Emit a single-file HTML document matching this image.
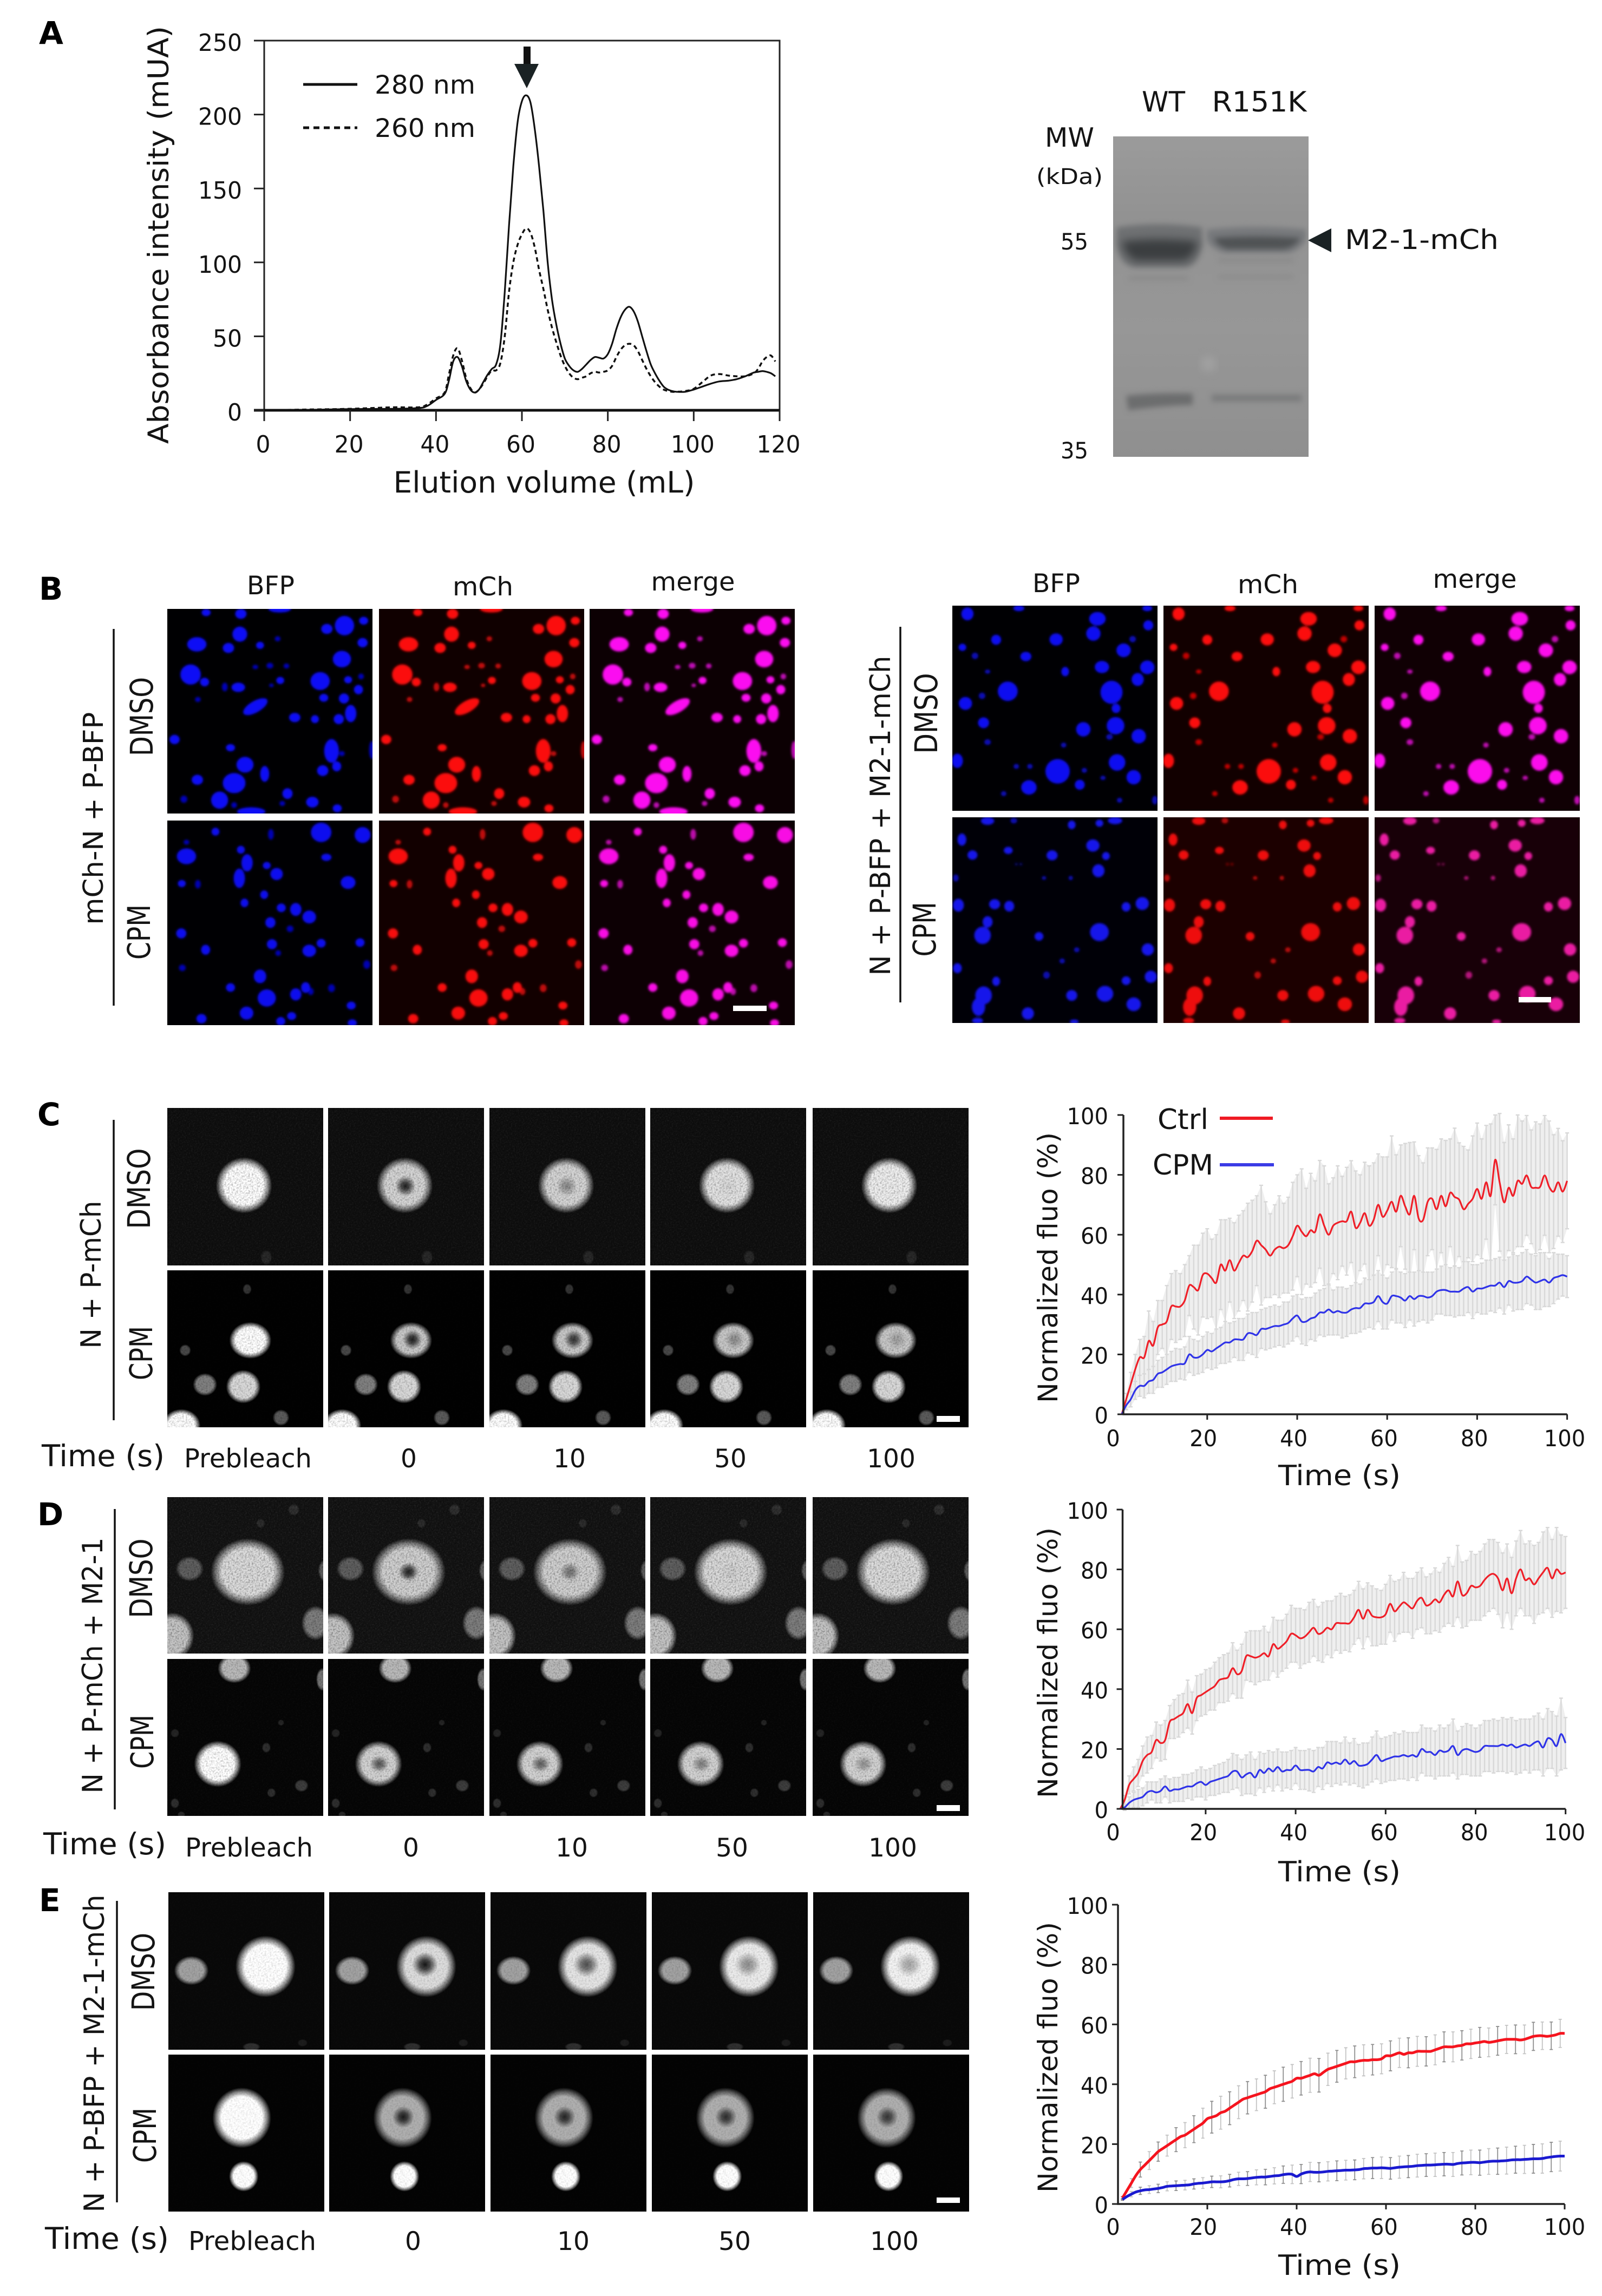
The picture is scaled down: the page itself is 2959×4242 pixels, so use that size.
<!DOCTYPE html>
<html lang="en">
<head>
<meta charset="utf-8">
<title>Phase separation and FRAP figure</title>
<style>
html,body{margin:0;padding:0;background:#fff;}
svg{display:block;}
text{font-family:"DejaVu Sans","Liberation Sans",sans-serif;fill:#141414;}
.pl{font-weight:700;font-size:58px;fill:#000;}
</style>
</head>
<body>
<svg id="fig" xmlns="http://www.w3.org/2000/svg" width="2959" height="4242" viewBox="0 0 2959 4242">
<defs>
<filter id="blurB" x="-5%" y="-5%" width="110%" height="110%"><feGaussianBlur stdDeviation="2.2"/></filter>
<filter id="blurGel" x="-20%" y="-60%" width="140%" height="220%" color-interpolation-filters="sRGB"><feGaussianBlur stdDeviation="8"/></filter>
<filter id="blurGel2" x="-20%" y="-200%" width="140%" height="500%" color-interpolation-filters="sRGB"><feGaussianBlur stdDeviation="5"/></filter>
<filter id="grain" x="0" y="0" width="100%" height="100%" color-interpolation-filters="sRGB"><feTurbulence type="fractalNoise" baseFrequency="0.32" numOctaves="2" seed="4"/><feColorMatrix type="matrix" values="0 0 0 0 0  0 0 0 0 0  0 0 0 0 0  1.8 0 0 0 -0.72"/></filter>
<filter id="speck" x="0" y="0" width="100%" height="100%" color-interpolation-filters="sRGB"><feTurbulence type="fractalNoise" baseFrequency="0.4" numOctaves="2" seed="9"/><feColorMatrix type="matrix" values="0 0 0 0 1  0 0 0 0 1  0 0 0 0 1  1.3 0 0 0 -0.62"/></filter>
<radialGradient id="soft"><stop offset="0" stop-color="#fff"/><stop offset="0.7" stop-color="#fff"/><stop offset="0.85" stop-color="#fff" stop-opacity="0.55"/><stop offset="1" stop-color="#fff" stop-opacity="0"/></radialGradient>
<radialGradient id="hole"><stop offset="0" stop-color="#000" stop-opacity="1"/><stop offset="0.4" stop-color="#000" stop-opacity="0.75"/><stop offset="1" stop-color="#000" stop-opacity="0"/></radialGradient>
<linearGradient id="gelBg" x1="0" y1="0" x2="0" y2="1"><stop offset="0" stop-color="#9b9b9b"/><stop offset="0.25" stop-color="#929292"/><stop offset="0.6" stop-color="#979797"/><stop offset="1" stop-color="#8f8f8f"/></linearGradient>
<clipPath id="gelClip"><rect x="2056" y="252" width="361" height="592"/></clipPath>
</defs>
<rect width="2959" height="4242" fill="#fff"/>

<!-- Panel A -->
<text class="pl" x="72" y="81">A</text>
<g id="chartA"></g>
<text transform="translate(311,434) rotate(-90)" text-anchor="middle" font-size="53" textLength="772" lengthAdjust="spacingAndGlyphs">Absorbance intensity (mUA)</text>
<text x="1005" y="910" text-anchor="middle" font-size="54" textLength="557" lengthAdjust="spacingAndGlyphs">Elution volume (mL)</text>
<line x1="560" y1="156" x2="660" y2="156" stroke="#111" stroke-width="5"/>
<text x="692" y="173" font-size="47" textLength="186" lengthAdjust="spacingAndGlyphs">280 nm</text>
<line x1="560" y1="236" x2="660" y2="236" stroke="#111" stroke-width="5" stroke-dasharray="11 8"/>
<text x="692" y="253" font-size="47" textLength="186" lengthAdjust="spacingAndGlyphs">260 nm</text>
<g><rect x="967" y="86" width="13" height="40" fill="#111"/><path d="M950 118 L995 118 L973 163 Z" fill="#1a2224"/></g>

<!-- Gel -->
<g clip-path="url(#gelClip)">
<rect x="2056" y="252" width="361" height="592" fill="url(#gelBg)"/>
<path d="M2062 420 Q2140 408 2220 420 L2221 452 Q2214 490 2190 494 L2094 494 Q2068 488 2062 452 Z" fill="#6f7173" filter="url(#blurGel2)"/>
<path d="M2072 446 Q2140 438 2212 446 Q2207 476 2186 482 L2098 482 Q2078 474 2072 446 Z" fill="#3b3e40" filter="url(#blurGel)"/>
<path d="M2229 424 Q2320 414 2412 424 L2412 444 Q2398 464 2380 467 L2262 467 Q2240 462 2229 444 Z" fill="#77797c" filter="url(#blurGel2)"/>
<path d="M2242 440 Q2320 434 2402 440 Q2390 458 2370 460 L2268 460 Q2250 456 2242 440 Z" fill="#505355" filter="url(#blurGel2)"/>
<rect x="2250" y="478" width="140" height="6" fill="#888" filter="url(#blurGel2)"/>
<rect x="2085" y="510" width="110" height="8" fill="#8a8a8a" filter="url(#blurGel2)"/>
<rect x="2250" y="508" width="140" height="7" fill="#8c8c8c" filter="url(#blurGel2)"/>
<path d="M2080 731 Q2140 725 2203 727 L2203 748 Q2140 750 2084 758 Z" fill="#6c6d6e" filter="url(#blurGel2)"/>
<rect x="2238" y="729" width="166" height="13" fill="#7a7b7c" filter="url(#blurGel2)"/>
<circle cx="2232" cy="672" r="14" fill="#a2a2a2" filter="url(#blurGel)"/>
</g>
<text x="2149" y="206" text-anchor="middle" font-size="52" textLength="80" lengthAdjust="spacingAndGlyphs">WT</text>
<text x="2326" y="206" text-anchor="middle" font-size="52" textLength="175" lengthAdjust="spacingAndGlyphs">R151K</text>
<text x="1930" y="271" font-size="49" textLength="91" lengthAdjust="spacingAndGlyphs">MW</text>
<text x="1914" y="340" font-size="40" textLength="123" lengthAdjust="spacingAndGlyphs">(kDa)</text>
<text x="1959" y="461" font-size="42" textLength="51" lengthAdjust="spacingAndGlyphs">55</text>
<text x="1959" y="847" font-size="42" textLength="51" lengthAdjust="spacingAndGlyphs">35</text>
<path d="M2416 444 L2459 422 L2459 466 Z" fill="#1a2224"/>
<text x="2484" y="460" font-size="50" textLength="284" lengthAdjust="spacingAndGlyphs">M2-1-mCh</text>

<!-- Panel B text -->
<text class="pl" x="72" y="1108">B</text>
<text x="500" y="1098" text-anchor="middle" font-size="47" textLength="88" lengthAdjust="spacingAndGlyphs">BFP</text>
<text x="892" y="1100" text-anchor="middle" font-size="47" textLength="112" lengthAdjust="spacingAndGlyphs">mCh</text>
<text x="1280" y="1091" text-anchor="middle" font-size="47" textLength="155" lengthAdjust="spacingAndGlyphs">merge</text>
<line x1="210" y1="1162" x2="210" y2="1858" stroke="#111" stroke-width="3.5"/>
<text transform="translate(190,1512) rotate(-90)" text-anchor="middle" font-size="51" textLength="393" lengthAdjust="spacingAndGlyphs">mCh-N + P-BFP</text>
<text transform="translate(282,1324) rotate(-90)" text-anchor="middle" font-size="58" textLength="146" lengthAdjust="spacingAndGlyphs">DMSO</text>
<text transform="translate(277,1722) rotate(-90)" text-anchor="middle" font-size="58" textLength="102" lengthAdjust="spacingAndGlyphs">CPM</text>

<text x="1951" y="1094" text-anchor="middle" font-size="47" textLength="88" lengthAdjust="spacingAndGlyphs">BFP</text>
<text x="2342" y="1096" text-anchor="middle" font-size="47" textLength="112" lengthAdjust="spacingAndGlyphs">mCh</text>
<text x="2724" y="1086" text-anchor="middle" font-size="47" textLength="155" lengthAdjust="spacingAndGlyphs">merge</text>
<line x1="1663" y1="1158" x2="1663" y2="1852" stroke="#111" stroke-width="3.5"/>
<text transform="translate(1644,1507) rotate(-90)" text-anchor="middle" font-size="52" textLength="591" lengthAdjust="spacingAndGlyphs">N + P-BFP + M2-1-mCh</text>
<text transform="translate(1731,1318) rotate(-90)" text-anchor="middle" font-size="58" textLength="149" lengthAdjust="spacingAndGlyphs">DMSO</text>
<text transform="translate(1728,1717) rotate(-90)" text-anchor="middle" font-size="58" textLength="101" lengthAdjust="spacingAndGlyphs">CPM</text>

<g id="micrographs"></g>

<rect x="1354" y="1858" width="62" height="10" fill="#fff"/>
<rect x="2805" y="1842" width="60" height="10" fill="#fff"/>

<!-- Panel C text -->
<text class="pl" x="69" y="2079">C</text>
<line x1="210" y1="2069" x2="210" y2="2624" stroke="#111" stroke-width="3.5"/>
<text transform="translate(186,2355) rotate(-90)" text-anchor="middle" font-size="52" textLength="273" lengthAdjust="spacingAndGlyphs">N + P-mCh</text>
<text transform="translate(277,2196) rotate(-90)" text-anchor="middle" font-size="58" textLength="149" lengthAdjust="spacingAndGlyphs">DMSO</text>
<text transform="translate(281,2500) rotate(-90)" text-anchor="middle" font-size="58" textLength="100" lengthAdjust="spacingAndGlyphs">CPM</text>
<text x="77" y="2709" font-size="55" textLength="227" lengthAdjust="spacingAndGlyphs">Time (s)</text>
<text x="340" y="2711" font-size="48" textLength="236" lengthAdjust="spacingAndGlyphs">Prebleach</text>
<text x="755" y="2711" text-anchor="middle" font-size="47">0</text>
<text x="1052" y="2711" text-anchor="middle" font-size="47">10</text>
<text x="1349" y="2711" text-anchor="middle" font-size="47">50</text>
<text x="1646" y="2711" text-anchor="middle" font-size="47">100</text>
<rect x="1730" y="2616" width="43" height="11" fill="#fff"/>

<!-- Panel D text -->
<text class="pl" x="69" y="2818">D</text>
<line x1="212" y1="2788" x2="212" y2="3343" stroke="#111" stroke-width="3.5"/>
<text transform="translate(189,3077) rotate(-90)" text-anchor="middle" font-size="52" textLength="473" lengthAdjust="spacingAndGlyphs">N + P-mCh + M2-1</text>
<text transform="translate(281,2916) rotate(-90)" text-anchor="middle" font-size="58" textLength="147" lengthAdjust="spacingAndGlyphs">DMSO</text>
<text transform="translate(283,3218) rotate(-90)" text-anchor="middle" font-size="58" textLength="100" lengthAdjust="spacingAndGlyphs">CPM</text>
<text x="80" y="3426" font-size="55" textLength="227" lengthAdjust="spacingAndGlyphs">Time (s)</text>
<text x="342" y="3430" font-size="48" textLength="236" lengthAdjust="spacingAndGlyphs">Prebleach</text>
<text x="759" y="3430" text-anchor="middle" font-size="47">0</text>
<text x="1056" y="3430" text-anchor="middle" font-size="47">10</text>
<text x="1352" y="3430" text-anchor="middle" font-size="47">50</text>
<text x="1649" y="3430" text-anchor="middle" font-size="47">100</text>
<rect x="1730" y="3335" width="43" height="11" fill="#fff"/>

<!-- Panel E text -->
<text class="pl" x="72" y="3531">E</text>
<line x1="216" y1="3512" x2="216" y2="4069" stroke="#111" stroke-width="3.5"/>
<text transform="translate(192,3794) rotate(-90)" text-anchor="middle" font-size="52" textLength="587" lengthAdjust="spacingAndGlyphs">N + P-BFP + M2-1-mCh</text>
<text transform="translate(285,3643) rotate(-90)" text-anchor="middle" font-size="58" textLength="144" lengthAdjust="spacingAndGlyphs">DMSO</text>
<text transform="translate(288,3945) rotate(-90)" text-anchor="middle" font-size="58" textLength="102" lengthAdjust="spacingAndGlyphs">CPM</text>
<text x="83" y="4155" font-size="55" textLength="229" lengthAdjust="spacingAndGlyphs">Time (s)</text>
<text x="348" y="4157" font-size="48" textLength="236" lengthAdjust="spacingAndGlyphs">Prebleach</text>
<text x="763" y="4157" text-anchor="middle" font-size="47">0</text>
<text x="1059" y="4157" text-anchor="middle" font-size="47">10</text>
<text x="1357" y="4157" text-anchor="middle" font-size="47">50</text>
<text x="1652" y="4157" text-anchor="middle" font-size="47">100</text>
<rect x="1730" y="4060" width="43" height="10" fill="#fff"/>

<g id="frapC"></g>
<g id="frapD"></g>
<g id="frapE"></g>

<!-- FRAP titles -->
<text transform="translate(1953,2342) rotate(-90)" text-anchor="middle" font-size="50" textLength="500" lengthAdjust="spacingAndGlyphs">Normalized fluo (%)</text>
<text x="2474" y="2744" text-anchor="middle" font-size="52" textLength="226" lengthAdjust="spacingAndGlyphs">Time (s)</text>
<text transform="translate(1953,3072) rotate(-90)" text-anchor="middle" font-size="50" textLength="500" lengthAdjust="spacingAndGlyphs">Normalized fluo (%)</text>
<text x="2474" y="3476" text-anchor="middle" font-size="52" textLength="226" lengthAdjust="spacingAndGlyphs">Time (s)</text>
<text transform="translate(1953,3801) rotate(-90)" text-anchor="middle" font-size="50" textLength="500" lengthAdjust="spacingAndGlyphs">Normalized fluo (%)</text>
<text x="2474" y="4203" text-anchor="middle" font-size="52" textLength="226" lengthAdjust="spacingAndGlyphs">Time (s)</text>

<!-- FRAP legend -->
<text x="2138" y="2086" font-size="52" textLength="94" lengthAdjust="spacingAndGlyphs">Ctrl</text>
<rect x="2253" y="2063" width="98" height="6" fill="#ef1b24"/>
<text x="2129" y="2170" font-size="52" textLength="112" lengthAdjust="spacingAndGlyphs">CPM</text>
<rect x="2253" y="2149" width="100" height="6" fill="#3b3ce6"/>
</svg>

<script>
/* ---------- Panel A data ---------- */
const volumes=[0,10,20,30,36,38,40,42,43,44,45,46,47,48,49,50,51,52,53,54,55,56,57,58,59,60,61,62,63,64,65,66,67,68,69,70,71,72,73,74,75,76,77,78,79,80,81,82,83,84,85,86,87,88,89,90,91,92,93,94,95,96,98,100,102,104,106,108,110,112,114,115,116,117,118,119];
const a280=[0,0.3,0.8,1,1.5,3,7,11,20,33,36,30,20,14,12,14,19,24,28,31,45,80,125,165,195,209,213,208,190,165,135,100,75,58,45,35,30,27,26,28,31,34,36,35.5,35,38,45,55,63,68,70,67,60,50,40,31,25,20,16,14,13,12.5,12.5,14,16,18,19.5,20,21,23,25.5,26,26.5,26,25,23];
const a260=[0,0.5,1,2,2,4,8,12,24,37,42,34,22,15,12,14,18,23,27,27,32,50,80,100,112,119,123,120,110,95,82,68,56,46,37,30,25,22,21,22,23,25,26,25.5,26,27,30,36,41,44,45,44,40,34,28,23,19,16,14,13,12.5,12.5,13,14.5,19,23.5,24.5,23.5,23,23,25,28,33,36,37,33];
const aXTicks=[0,20,40,60,80,100,120];
const aYTicks=[0,50,100,150,200,250];

/* ---------- FRAP data (time = index + 1 s) ---------- */
const frapXTicks=[0,20,40,60,80,100];
const frapYTicks=[0,20,40,60,80,100];
const cMeanCtrl=[0,5,10,15,19,19,24.5,23,29,30,31,36,36,36,38,43,42.5,41.5,46.5,47,45.5,44,50,48,51.5,48,50.5,53,52.5,54.5,58,56.5,55,53,55,56,55.5,56.5,59.5,63,61,59.5,61.5,61,66.8,63,60,63,64,64.5,64.5,67.7,62.3,64,67.2,63,65,70,66,68,71,67.7,73,69.5,66.8,73,65.4,65,71,72,68.5,73,69.5,74,72.6,71.7,68.5,70.3,72,75.3,72,77.5,73,85,77.5,70.8,75.7,73,78,77,79.8,76,75.7,76,79.8,76,74.4,77.5,74.4,78];
const cErrCtrl=[0,2,4,5,6,7,10,8,9,8,12,11,12,11,12,10,14,15,14,15,13,16,15,17,14,16,16,15,18,17,15,20,16,14,15,17,15,16,18,17,21,16,19,17,18,20,17,16,19,15,18,17,19,16,17,20,19,17,20,18,22,19,17,21,24,18,21,19,18,17,20,19,22,18,23,19,21,18,21,22,20,19,24,15,23,20,21,19,22,21,20,19,22,21,20,22,19,18,17,16];
const cMeanCpm=[0,3,5,8,9.5,9.5,11,11.5,13.5,14,15,16,16.5,16.8,17,20,19,19,20,21.5,21,22,23,24,24,25,25,25,27,27,26.5,28.5,28.5,29,29.5,29.5,30,30.5,32,33,31,31,32,32.5,34,34,35,34,34.5,34,34,35,35.5,35.5,37,37,37.5,39.5,37.5,37,39.5,39.5,39,38,39.5,38.5,39.5,39.5,39,39.5,41,41.5,41.5,41,41,41,42,42.5,41,42,42,42.5,43,43,44,42.5,44.5,44,44,44.5,46,45,44,44.5,45,44,45.5,46,46.5,46];
const cErrCpm=[0,1.5,2.5,3,3.5,4,4,4.5,4.5,5,5,5,5.5,5,5.5,6,6,5.5,6,6,6,6.5,6,7,6.5,6,7,7,6.5,7,7.5,6.5,7,7,7,6.5,7.5,7,7.5,7,7.5,8,7,8,7.5,8,8.5,7.5,8,8.5,8,8,8.5,8,8.5,8,9,8.5,9,8.5,8,9,8.5,9,8,9,8.5,8,8.5,8,7.5,8,8.5,8,8.5,8,9,8.5,9,8,8.5,9,8.5,9,8.5,9,8,9.5,9,9.5,9,8.5,9,9.5,9,8,8.5,7.5,7,7];
const dMeanCtrl=[0,3,8,10,12,16,18,19,23,22,23,29,30,31,32,35,32,37,38,39,40,41,43,43.5,44,47,45,46,51,51,50.5,51,52,51,55,53.5,54.5,56,58.5,58,57,57.5,59,60.5,58.5,59,60.5,60,62,62,62,62,64,66.5,63.5,66.5,64.5,64,64,65,68.5,66,67.5,69,68,67,69.5,70.5,68,68.5,70,69,71.5,73,71,76,71.5,72,74.5,74,74.5,76.5,78,78.5,77,73,77,72,77,80,76.5,77,75,77,79,80.5,77,80,78.5,79];
const dErrCtrl=[0,1.5,3,4,4.5,5,6,5.5,6,6,6.5,5.5,6.5,7,6.5,8,7,7.5,7,7.5,7,8,7.5,8,8,8.5,8,9,8,8.5,9,8.5,9,8,9,9.5,8.5,9,9.5,9,10,9,10,9.5,9,10,9,9.5,9,10,9,9.5,9,9.5,10,9,10,9.5,9,10,9.5,10,9,10,9,10,9.5,10,9.5,10,10.5,10,10.5,11,10,12,11,11,11.5,11,11.5,12,12,11.5,12,12.5,11.5,12,12.5,13,12,12.5,13,12,13.5,13.5,13,14,13,12];
const dMeanCpm=[0,0.5,2,3,3.5,4,5.5,6,5.5,6,7.5,6,6.5,6.5,7,7.5,7.5,8.5,9,8,9,9.5,10,10.5,11,12.5,12.5,10.5,11.5,12,10.5,13,12,13.5,12.5,14,12.5,13,13,14.5,13,13,13,12.5,14,13.5,15.5,15,15.5,15,16.5,15,16,14.5,14.5,15,16.5,18,16,16.5,17,17.5,17.5,18,17.5,18,17.5,20,19,19,18,19.5,19,19.5,21,18,19.5,20,19.5,19,19.5,21,21,21,21,21.5,21,21.5,20.5,21,21.5,21,22,22.5,20.5,23.5,23,21,25,22];
const dErrCpm=[0,1,2,2.5,3,3,3.5,3,3.5,4,3.5,4,4,4,4.5,4,4.5,4.5,5,5,4.5,5,5,5,5.5,6,5.5,6,6.5,7,6,6,6.5,6,6.5,6,6.5,6,6.5,6,6.5,6.5,7,7,6.5,7,7,7.5,7,7,7.5,7,7.5,7,7.5,7,7.5,8,7.5,7.5,7.5,8,7.5,8,8,7.5,8,8,8,8,8,8.5,8,8.5,9,8,8,8.5,8.5,8,8.5,8.5,8.5,9,8.5,9,9,9,9,9,8.5,9,9,9.5,9.5,10,9.5,10,12,8.5];
const eMeanCtrl=[2,4.5,7,9.5,11.5,13,14.5,16,17.5,18.5,19.5,20.5,21.5,22.5,23,24,25,26,27,28.5,29,29.5,30.5,31,32,33,34,35,35.5,36,36.5,37,37.5,38.5,39,39.5,40,40.5,41,42,42,42.5,43,43.5,43,44,45,45.5,46,46.5,47,47.5,47.5,47.8,48,48,48.2,48.2,48.5,49.5,49.5,50,50.5,50,50.5,50.5,51,51,51,51,51.5,52,52.5,52.5,52.5,52.8,53,53.5,53.5,53.8,54,54.3,54,54.2,54.5,54.8,55,55,55,54.8,55,55.5,56,56.2,56.2,56,56.2,56.5,57,57];
const eErrCtrl=[0.5,1,1.5,2,2.5,2.8,3,3,3.2,3.3,3.5,3.7,4,4,4.2,4.3,4.5,4.7,5,5.2,5.3,5.4,5.5,5.5,5.5,5.5,5.5,5.5,5.4,5.3,5.3,5.4,5.5,5.5,5.5,5.6,5.7,5.7,5.6,5.5,5.6,5.6,5.7,5.8,5.6,5.5,5.4,5.3,5.3,5.2,5.2,5.2,5.3,5.3,5.2,5.2,5.1,5,5,5,5,5,4.9,4.9,5,5,5,4.9,4.9,4.9,5,5,5,5,5,4.9,4.9,4.9,4.9,5,5,4.9,4.8,4.8,4.8,4.8,4.7,4.8,4.8,4.8,4.8,4.8,4.7,4.7,4.6,4.6,4.6,4.7,4.7,4.7];
const eMeanCpm=[1.5,2.5,3.3,4,4.4,4.7,4.8,5,5.2,5.5,5.9,6,6.1,6.2,6.3,6.4,6.7,6.9,7,7.2,7.4,7.4,7.4,7.5,7.8,8.2,8.4,8.4,8.5,8.7,8.9,9,9,9.2,9.4,9.5,9.8,10,9.9,9.2,10,10.5,10.7,10.6,10.6,10.7,10.9,11,11.1,11.2,11.3,11.3,11.4,11.5,11.8,11.9,12,12,12.1,12,11.9,12.1,12.3,12.4,12.5,12.6,12.8,12.9,13,13,13.1,13.2,13.3,13.3,13.2,13.5,13.7,13.8,13.9,13.9,13.8,14,14.2,14.3,14.3,14.4,14.5,14.7,14.8,14.8,14.9,15,15.1,15.1,15.2,15.5,15.7,15.9,16,16];
const eErrCpm=[0.3,0.6,0.9,1.1,1.2,1.3,1.3,1.4,1.4,1.5,1.5,1.5,1.6,1.6,1.6,1.7,1.7,1.8,1.8,1.9,1.9,1.9,2,2,2.1,2.2,2.2,2.3,2.3,2.4,2.5,2.5,2.6,2.6,2.7,2.8,2.9,3,3.1,3.8,3.2,3.2,3.2,3.2,3.2,3.2,3.2,3.3,3.3,3.3,3.3,3.3,3.3,3.4,3.4,3.5,3.5,3.6,3.6,3.6,3.6,3.7,3.7,3.7,3.7,3.8,3.8,3.8,3.8,3.9,3.9,3.9,3.9,4,4,4,4,4.1,4.1,4.2,4.2,4.3,4.3,4.3,4.4,4.4,4.5,4.5,4.5,4.6,4.7,4.8,4.8,4.8,4.9,4.9,4.9,5,5,5];

/* ---------- Droplets for panel B: [x, y, rx, ry, rotation] in source-crop units ---------- */
const bLeftDmso=[[398,218,8,10],[465,222,10,14],[540,207,20,10],[665,258,17,27],[702,243,8,11],[631,268,10,14],[463,284,13,21],[380,315,17,20],[441,326,10,14],[502,318,7,10],[700,310,9,13],[660,360,16,23],[536,298,5,7],[368,407,18,28],[395,430,8,12],[618,427,17,25],[521,380,6,8],[493,384,5,6],[553,381,5,7],[541,425,7,10],[460,446,12,13],[434,445,5,12],[524,440,4,5],[692,453,8,13],[672,423,7,10],[697,413,5,8],[625,478,8,11],[664,480,9,14],[382,483,5,7],[493,505,24,16,-30],[677,526,10,24],[569,538,10,13],[608,543,7,11],[654,543,9,14],[337,605,9,13],[445,630,8,10],[640,640,13,33],[718,637,5,25],[660,648,5,7],[473,682,15,22],[650,687,8,14],[623,700,10,15],[511,710,8,22],[381,728,10,14],[452,738,20,28],[555,770,9,15],[424,790,15,24],[603,796,11,15],[355,787,6,10],[485,825,25,12],[651,815,8,11],[545,800,5,7],[452,805,5,8]];
const bLeftCpm=[[416,885,7,11],[523,893,5,15],[620,887,18,27],[700,895,14,22],[360,960,17,22],[360,917,5,7],[465,940,7,11],[477,980,10,24],[515,988,7,10],[462,1027,10,27],[534,1014,11,17],[630,963,9,10],[672,1040,13,18],[351,1043,7,10],[382,1045,5,12],[510,1077,7,12],[472,1102,7,12],[543,1117,8,12],[571,1122,10,18],[597,1145,12,18],[522,1162,9,15],[560,1181,6,9],[350,1195,9,14],[525,1228,9,14],[620,1225,8,12],[695,1223,8,12],[397,1245,8,14],[597,1248,12,17],[537,1255,5,8],[708,1290,6,12],[352,1300,6,9],[502,1326,11,19],[445,1360,8,12],[590,1360,8,15],[571,1381,10,17],[600,1372,5,10],[640,1362,6,11],[515,1392,16,24],[678,1415,8,11],[476,1438,12,18],[563,1447,8,11],[389,1455,9,13],[542,1463,8,12],[680,1468,8,10]];
const bRightDmso=[[308,222,11,18],[410,205,10,8],[566,237,15,19],[665,205,9,8],[667,257,9,14],[558,282,13,20],[365,301,9,14],[484,300,12,17],[636,299,6,9],[298,324,7,10],[618,333,13,19],[323,350,6,9],[424,352,10,13],[575,384,13,17],[665,385,13,19],[502,398,7,13],[348,398,5,6],[646,422,11,18],[388,458,18,27],[594,461,20,32],[337,472,6,9],[304,495,12,18],[603,510,8,13],[340,554,10,15],[538,574,13,20],[602,563,16,24],[648,595,13,20],[590,597,6,8],[348,613,6,8],[499,622,5,7],[288,670,10,20],[605,675,15,23],[487,702,22,34],[432,687,5,7],[405,687,5,7],[638,720,13,20],[430,751,14,20],[531,743,9,14],[540,699,5,7],[680,790,5,12],[610,790,5,7],[380,770,5,7],[577,722,5,6]];
const bRightCpm=[[348,853,12,11],[400,852,6,8],[515,865,7,12],[570,860,7,10],[601,852,13,10],[297,910,8,17],[557,928,12,17],[318,957,9,13],[389,943,8,10],[476,958,10,14],[583,960,7,11],[568,1005,11,18],[405,985,3,4],[414,985,3,4],[285,1027,5,10],[460,1027,4,5],[513,1027,4,6],[290,1110,10,18],[362,1107,10,14],[391,1113,9,15],[623,1115,8,13],[655,1105,12,18],[348,1161,9,16],[338,1202,15,24],[570,1192,17,25],[450,1205,8,12],[525,1246,5,7],[666,1245,11,17],[288,1302,8,14],[496,1280,5,7],[465,1323,6,10],[623,1340,8,12],[672,1328,11,17],[365,1342,7,13],[340,1385,15,25],[330,1420,12,25],[515,1385,10,15],[581,1380,15,22],[638,1412,13,19],[428,1440,11,17],[328,1462,10,8],[520,1465,8,6]];

const NS='http://www.w3.org/2000/svg';
function mk(parent,tag,attrs){
  const el=document.createElementNS(NS,tag);
  for(const k in attrs){el.setAttribute(k,attrs[k]);}
  parent.appendChild(el);
  return el;
}
function smooth(xs,ys){
  let d='M'+xs[0].toFixed(1)+' '+ys[0].toFixed(1);
  for(let i=0;i<xs.length-1;i++){
    const p0=Math.max(i-1,0), p3=Math.min(i+2,xs.length-1);
    const c1x=xs[i]+(xs[i+1]-xs[p0])/6, c1y=ys[i]+(ys[i+1]-ys[p0])/6;
    const c2x=xs[i+1]-(xs[p3]-xs[i])/6, c2y=ys[i+1]-(ys[p3]-ys[i])/6;
    d+=' C'+c1x.toFixed(1)+' '+c1y.toFixed(1)+' '+c2x.toFixed(1)+' '+c2y.toFixed(1)+' '+xs[i+1].toFixed(1)+' '+ys[i+1].toFixed(1);
  }
  return d;
}

/* ---------- Panel A ---------- */
(function(){
  const g=document.getElementById('chartA');
  const xOf=v=>488+v*(952/120);
  const yOf=a=>758-a*(683/250);
  const box=mk(g,'path',{d:'M488 75 L1440 75 L1440 758 M488 75 L488 758',fill:'none',stroke:'#222','stroke-width':3});
  
  
  const base=mk(g,'line',{x1:469,x2:1440,y1:758,y2:758,stroke:'#111','stroke-width':5});
  
  
  aYTicks.forEach(t=>{
    const tk=mk(g,'line',{x1:469,x2:488,y1:yOf(t),y2:yOf(t),stroke:'#222','stroke-width':3});
    
    
    const lb=mk(g,'text',{x:447,y:yOf(t)+19,'text-anchor':'end','font-size':44,textLength:String(t).length*27,lengthAdjust:'spacingAndGlyphs'});
    lb.textContent=t;
    
    
  });
  aXTicks.forEach(t=>{
    const tk=mk(g,'line',{x1:xOf(t),x2:xOf(t),y1:758,y2:778,stroke:'#222','stroke-width':3});
    
    
    const lb=mk(g,'text',{x:xOf(t)-2,y:836,'text-anchor':'middle','font-size':44,textLength:String(t).length*27,lengthAdjust:'spacingAndGlyphs'});
    lb.textContent=t;
    
    
  });
  const xs=volumes.map(xOf);
  const l260=mk(g,'path',{d:smooth(xs,a260.map(yOf)),fill:'none',stroke:'#111','stroke-width':3.5,'stroke-dasharray':'8 6'});
  
  
  const l280=mk(g,'path',{d:smooth(xs,a280.map(yOf)),fill:'none',stroke:'#111','stroke-width':3.2,'stroke-linejoin':'round'});
  
  
})();

/* ---------- Panel B micrographs ---------- */
const micro=document.getElementById('micrographs');
function drawB(drops,colX,w,rowY,h,zx0,zy0,sx,sy,channels){
  channels.forEach((ch,c)=>{
    const s=mk(micro,'svg',{x:colX[c],y:rowY,width:w,height:h});
    
    
    mk(s,'rect',{width:w,height:h,fill:ch.bg});
    const g=mk(s,'g',{filter:'url(#blurB)'});
    drops.forEach(d=>{
      const rx=1.1*d[2]/sx, ry=1.1*d[3]/sy;
      const o=d[2]<4?0.4:(d[2]<7?0.75:1);
      const cx=(d[0]-zx0)/sx, cy=(d[1]-zy0)/sy;
      const e=mk(g,'ellipse',{cx:cx,cy:cy,rx:rx,ry:ry,fill:ch.fill,opacity:o});
      if(d[4]){e.setAttribute('transform','rotate('+d[4]+' '+cx+' '+cy+')');}
      
      
    });
  });
}
const leftCols=[309,700,1089], rightCols=[1759,2149,2539];
drawB(bLeftDmso,leftCols,379,1125,378,323,207,1.045,1.65,[{bg:'#000002',fill:'#0808f5'},{bg:'#100000',fill:'#fb0a0a'},{bg:'#0c0003',fill:'#fb0ff0'}]);
drawB(bLeftCpm,leftCols,379,1516,378,323,851,1.045,1.65,[{bg:'#000003',fill:'#0808ee'},{bg:'#120000',fill:'#f80a0a'},{bg:'#0d0004',fill:'#f810e4'}]);
drawB(bRightDmso,rightCols,379,1119,379,278,197,1.0747,1.65,[{bg:'#000003',fill:'#0a0af0'},{bg:'#120000',fill:'#fb0808'},{bg:'#100004',fill:'#fb10ec'}]);
drawB(bRightCpm,rightCols,379,1510,380,278,842,1.0747,1.65,[{bg:'#000007',fill:'#1212ea'},{bg:'#1c0000',fill:'#ee0e0e'},{bg:'#180008',fill:'#ea1aa2'}]);

/* ---------- FRAP micrographs ---------- */
const cdCols=[309,606,904,1201,1501], eCols=[311,608,906,1204,1502];
const timeNames=['prebleach','0-s','10-s','50-s','100-s'];
function drawFrapRow(name,cols,rowY,h,zy0,sy,cfg){
  cols.forEach((cx,c)=>{
    const s=mk(micro,'svg',{x:cx,y:rowY,width:288,height:h});
    
    
    mk(s,'rect',{width:288,height:h,fill:cfg.bg});
    if(cfg.speck){mk(s,'rect',{width:288,height:h,fill:'#000',filter:'url(#speck)',opacity:cfg.speck});}
    cfg.drops.forEach((d,i)=>{
      const level=i===0?cfg.levels[c]:d[4];
      const e=mk(s,'ellipse',{cx:d[0]/0.8476,cy:(d[1]-zy0)/sy,rx:d[2]/0.8476,ry:d[3]/sy,fill:'url(#soft)',opacity:level});
      
      
    });
    if(cfg.depths[c]>0){
      const hole=cfg.hole;
      const e=mk(s,'ellipse',{cx:hole[0]/0.8476,cy:(hole[1]-zy0)/sy,rx:hole[2]/0.8476,ry:hole[3]/sy,fill:'url(#hole)',opacity:cfg.depths[c]});
      
      
    }
    mk(s,'rect',{width:288,height:h,fill:'#000',filter:'url(#grain)',opacity:cfg.grain});
  });
}
drawFrapRow('frap-c-dmso',cdCols,2047,291,95,2.01,{bg:'#0f0f0f',speck:0.12,grain:0.35,
  drops:[[120,382,44,104,1],[155,650,9,28,0.1]],levels:[1,0.82,0.82,0.88,0.93],hole:[121,385,16,38],depths:[0,0.85,0.35,0.05,0]});
drawFrapRow('frap-c-cpm',cdCols,2347,290,698,2.01,{bg:'#020202',speck:0,grain:0.3,
  drops:[[130,958,33,68,1],[125,768,7,20,0.2],[28,995,9,22,0.28],[59,1122,19,42,0.5],[119,1130,27,62,0.85],[22,1275,30,62,1],[178,1245,13,30,0.35]],levels:[1,0.78,0.78,0.78,0.78],hole:[132,955,15,36],depths:[0,0.85,0.75,0.3,0.2]});
drawFrapRow('frap-d-dmso',cdCols,2766,289,95,2.063,{bg:'#131313',speck:0.15,grain:0.4,
  drops:[[126,380,58,128,1],[35,368,22,48,0.32],[248,375,12,44,0.32],[8,625,34,90,0.75],[232,575,22,66,0.45],[198,143,9,22,0.12],[146,195,7,18,0.1]],levels:[0.85,0.8,0.8,0.84,0.85],hole:[126,380,16,36],depths:[0,0.85,0.45,0.05,0]});
drawFrapRow('frap-d-cpm',cdCols,3065,290,712,2.063,{bg:'#060606',speck:0.06,grain:0.3,
  drops:[[79,1112,37,88,1],[105,748,26,56,0.72],[243,790,10,44,0.45],[178,955,5,12,0.12],[12,995,7,17,0.12],[155,1050,7,20,0.16],[210,1195,11,24,0.22],[163,1222,7,18,0.16],[12,1262,7,20,0.16],[22,1305,6,12,0.14]],levels:[1,0.82,0.82,0.82,0.82],hole:[80,1112,15,32],depths:[0,0.6,0.55,0.4,0.3]});
drawFrapRow('frap-e-dmso',eCols,3496,291,72,2.005,{bg:'#090909',speck:0.03,grain:0.18,
  drops:[[152,347,47,114,1],[36,362,27,54,0.62],[130,645,14,16,0.16],[210,630,8,14,0.08]],levels:[1,0.86,0.89,0.92,0.95],hole:[150,340,20,46],depths:[0,0.9,0.65,0.4,0.32]});
drawFrapRow('frap-e-cpm',eCols,3796,290,674,2.005,{bg:'#040404',speck:0,grain:0.15,
  drops:[[115,908,46,112,1],[118,1125,23,56,1]],levels:[1,0.68,0.68,0.68,0.68],hole:[116,905,17,40],depths:[0,0.85,0.8,0.75,0.7]});

/* ---------- FRAP charts ---------- */
function drawFrap(id,cfg,meanCtrl,errCtrl,meanCpm,errCpm){
  const g=document.getElementById(id);
  const xOf=t=>cfg.x0+cfg.xs*t;
  const yOf=v=>cfg.y0-v*(cfg.y0-cfg.y100)/100;
  function bars(mean,err,name){
    if(cfg.band){
      const up=mean.map((v,i)=>xOf(i+1)+','+yOf(v+err[i]));
      const dn=mean.map((v,i)=>xOf(i+1)+','+yOf(v-err[i])).reverse();
      const a=mk(g,'polygon',{points:up.concat(dn).join(' '),fill:cfg.band});
      
      
    }
    for(let i=0;i<mean.length;i+=cfg.step){
      const x=xOf(i+1), top=yOf(mean[i]+err[i]), bot=yOf(mean[i]-err[i]);
      const col=(cfg.step===2&&i%4===0)?'#8f8f8f':cfg.barColor;
      const b=mk(g,'path',{d:'M'+x+' '+top+' L'+x+' '+bot+' M'+(x-cfg.cap)+' '+top+' L'+(x+cfg.cap)+' '+top+' M'+(x-cfg.cap)+' '+bot+' L'+(x+cfg.cap)+' '+bot,fill:'none',stroke:col,'stroke-width':cfg.barWidth});
      
      
    }
  }
  bars(meanCtrl,errCtrl,'error-bar-ctrl');
  bars(meanCpm,errCpm,'error-bar-cpm');
  function line(mean,color,name){
    const p=mk(g,'path',{d:smooth(mean.map((v,i)=>xOf(i+1)),mean.map(yOf)),fill:'none',stroke:color,'stroke-width':cfg.lineWidth,'stroke-linejoin':'round'});
    
    
  }
  line(meanCtrl,cfg.red,'series-ctrl');
  line(meanCpm,cfg.blue,'series-cpm');
  const ax=mk(g,'path',{d:'M'+cfg.axisX+' '+cfg.y100+' L'+cfg.axisX+' '+cfg.y0+' L'+xOf(100)+' '+cfg.y0,fill:'none',stroke:'#222','stroke-width':3.5});
  
  
  frapYTicks.forEach(t=>{
    const tk=mk(g,'line',{x1:cfg.axisX-11,x2:cfg.axisX,y1:yOf(t),y2:yOf(t),stroke:'#222','stroke-width':3});
    
    
    const lb=mk(g,'text',{x:2047,y:yOf(t)+17,'text-anchor':'end','font-size':42,textLength:String(t).length*25.5,lengthAdjust:'spacingAndGlyphs'});
    lb.textContent=t;
    
    
  });
  frapXTicks.forEach(t=>{
    if(t>0){
      const tk=mk(g,'line',{x1:xOf(t),x2:xOf(t),y1:cfg.y0,y2:cfg.y0+10,stroke:'#222','stroke-width':3});
      
      
    }
    const lb=mk(g,'text',{x:2056+t*8.34,y:cfg.labelY,'text-anchor':'middle','font-size':42,textLength:String(t).length*25.5,lengthAdjust:'spacingAndGlyphs'});
    lb.textContent=t;
    
    
  });
}
drawFrap('frapC',{x0:2063.6,xs:8.31,y0:2613,y100:2060,axisX:2075,labelY:2672,step:1,cap:3.5,band:'#efefef',barColor:'#d8d8d8',barWidth:2.4,lineWidth:3.2,red:'#ef1f28',blue:'#2f33e8'},cMeanCtrl,cErrCtrl,cMeanCpm,cErrCpm);
drawFrap('frapD',{x0:2060.7,xs:8.31,y0:3342,y100:2789,axisX:2073.5,labelY:3400,step:1,cap:3.5,band:'#efefef',barColor:'#d8d8d8',barWidth:2.4,lineWidth:3.2,red:'#ef1f28',blue:'#2f33e8'},dMeanCtrl,dErrCtrl,dMeanCpm,dErrCpm);
drawFrap('frapE',{x0:2065,xs:8.25,y0:4072,y100:3519,axisX:2065,labelY:4129,step:2,cap:3,band:'',barColor:'#c4c4c4',barWidth:1.8,lineWidth:5,red:'#f5141e',blue:'#1a1ad0'},eMeanCtrl,eErrCtrl,eMeanCpm,eErrCpm);
</script>
</body>
</html>
